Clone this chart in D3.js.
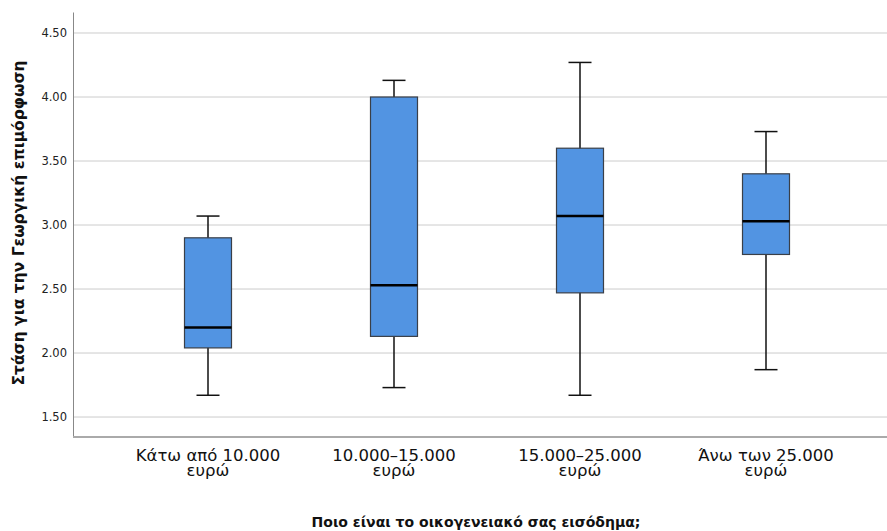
<!DOCTYPE html>
<html>
<head>
<meta charset="utf-8">
<script src="https://cdn.jsdelivr.net/npm/d3@7"></script>
<style>
  body { margin: 0; background: #fff; }
  svg { display: block; }
  .tick text { font-family: "DejaVu Sans", sans-serif; font-size: 11.5px; fill: #222; }
  .cat { font-family: "DejaVu Sans", sans-serif; font-size: 16.5px; fill: #111; }
  .title { font-family: "DejaVu Sans", sans-serif; font-weight: bold; fill: #111; }
</style>
</head>
<body>
<svg id="chart" width="887" height="531"></svg>
<script>
// categories and five-number summaries
var categories = ['Κάτω από 10.000|ευρώ', '10.000–15.000|ευρώ', '15.000–25.000|ευρώ', 'Άνω των 25.000|ευρώ'];
var whiskerLow  = [1.67, 1.73, 1.67, 1.87];
var q1          = [2.04, 2.13, 2.47, 2.77];
var median      = [2.20, 2.53, 3.07, 3.03];
var q3          = [2.90, 4.00, 3.60, 3.40];
var whiskerHigh = [3.07, 4.13, 4.27, 3.73];
var yTicks = [1.5, 2.0, 2.5, 3.0, 3.5, 4.0, 4.5];

var svg = d3.select('#chart');
var plotLeft = 73, plotRight = 887, plotTop = 12, plotBottom = 437;

var y = d3.scaleLinear().domain([1.344, 4.664]).range([plotBottom, plotTop]);
var x = d3.scalePoint().domain(categories).range([208, 766]);

//gridlines
svg.append('g').selectAll('line')
    .data(yTicks).enter().append('line')
    .attr('x1', plotLeft).attr('x2', plotRight)
    .attr('y1', function(d) { return y(d); })
    .attr('y2', function(d) { return y(d); })
    .attr('stroke', '#cccccc').attr('stroke-width', 1);

//y axis
var yAxis = svg.append('g')
    .attr('transform', 'translate(' + plotLeft + ',0)')
    .call(d3.axisLeft(y).tickValues(yTicks).tickFormat(d3.format('.2f')).tickSize(0).tickPadding(6));
yAxis.select('.domain').attr('stroke', '#888').attr('stroke-width', 1);

//bottom axis line
svg.append('line')
    .attr('x1', plotLeft).attr('x2', plotRight)
    .attr('y1', plotBottom).attr('y2', plotBottom)
    .attr('stroke', '#aaaaaa').attr('stroke-width', 2);

var boxW = 47, capW = 23;
var data = categories.map(function(c, i) {
    return { cat: c, lo: whiskerLow[i], q1: q1[i], med: median[i], q3: q3[i], hi: whiskerHigh[i] };
});

var g = svg.append('g').selectAll('g').data(data).enter().append('g');

//whiskers
g.append('line')
    .attr('x1', function(d) { return x(d.cat); })
    .attr('x2', function(d) { return x(d.cat); })
    .attr('y1', function(d) { return y(d.lo); })
    .attr('y2', function(d) { return y(d.hi); })
    .attr('stroke', '#111').attr('stroke-width', 1.5);
['lo', 'hi'].forEach(function(k) {
    g.append('line')
        .attr('x1', function(d) { return x(d.cat) - capW / 2; })
        .attr('x2', function(d) { return x(d.cat) + capW / 2; })
        .attr('y1', function(d) { return y(d[k]); })
        .attr('y2', function(d) { return y(d[k]); })
        .attr('stroke', '#111').attr('stroke-width', 1.5);
});

//boxes
g.append('rect')
    .attr('x', function(d) { return x(d.cat) - boxW / 2; })
    .attr('y', function(d) { return y(d.q3); })
    .attr('width', boxW)
    .attr('height', function(d) { return y(d.q1) - y(d.q3); })
    .attr('fill', '#5294e2')
    .attr('stroke', '#3a3f48').attr('stroke-width', 1.2);

//medians
g.append('line')
    .attr('x1', function(d) { return x(d.cat) - boxW / 2; })
    .attr('x2', function(d) { return x(d.cat) + boxW / 2; })
    .attr('y1', function(d) { return y(d.med); })
    .attr('y2', function(d) { return y(d.med); })
    .attr('stroke', '#000').attr('stroke-width', 2.5);

//category labels, one text per line
[0, 1].forEach(function(line) {
    svg.append('g').selectAll('text').data(categories).enter().append('text')
        .attr('class', 'cat')
        .attr('text-anchor', 'middle')
        .attr('x', function(d) { return x(d); })
        .attr('y', 461 + line * 14.5)
        .text(function(d) { return d.split('|')[line]; });
});

//axis titles
svg.append('text').attr('class', 'title')
    .attr('text-anchor', 'middle')
    .attr('font-size', '14px')
    .attr('x', 476).attr('y', 527)
    .text('Ποιο είναι το οικογενειακό σας εισόδημα;');

svg.append('text').attr('class', 'title')
    .attr('text-anchor', 'middle')
    .attr('font-size', '15.5px')
    .attr('transform', 'translate(24,' + 223 + ') rotate(-90)')
    .text('Στάση για την Γεωργική επιμόρφωση');
</script>
</body>
</html>
